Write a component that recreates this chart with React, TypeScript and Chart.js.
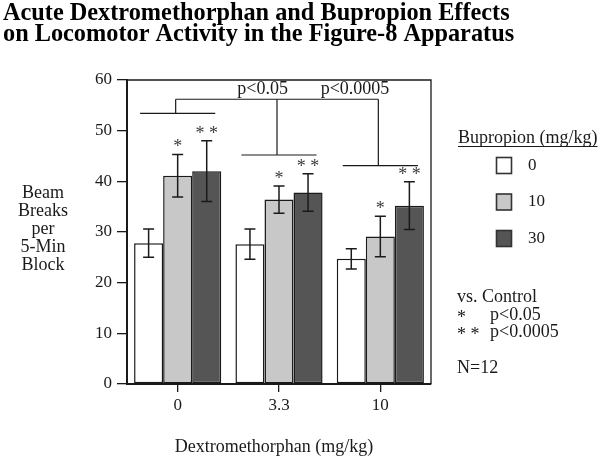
import React, { useEffect, useRef } from 'react';
import { Chart, registerables } from 'chart.js';

Chart.register(...registerables);

// ---- data ----
const categories = ['0', '3.3', '10'];
const seriesLabels = ['0', '10', '30'];
const bup0 = [27.8, 27.6, 24.7];
const bup10 = [41.1, 36.4, 29.1];
const bup30 = [42.0, 37.8, 35.2];
const err0 = [2.8, 3.0, 2.0];
const err10 = [4.2, 2.7, 4.0];
const err30 = [6.0, 3.7, 4.7];
const stars0 = ['', '', ''];
const stars10 = ['*', '*', '*'];
const stars30 = ['* *', '* *', '* *'];
const yTickValues = [0, 10, 20, 30, 40, 50, 60];
const bracketLevels = [53.4, 45.2, 43.1];
const bracketTopLevel = 56.2;
const bracketLabels = ['', 'p<0.05', 'p<0.0005'];

const titleLines = [
  'Acute Dextromethorphan and Bupropion Effects',
  'on Locomotor Activity in the Figure-8 Apparatus',
];
const yTitleLines = ['Beam', 'Breaks', 'per', '5-Min', 'Block'];
const xTitle = 'Dextromethorphan (mg/kg)';
const legendTitle = 'Bupropion (mg/kg)';
const noteLines = ['vs. Control'];
const noteStars = [['*', 'p<0.05'], ['* *', 'p<0.0005']];
const nLabel = 'N=12';

const fills = ['#ffffff', '#c8c8c8', '#555555'];
const SERIF = '"Liberation Serif", "Times New Roman", serif';
const INK = '#1a1a1a';

const errs = [err0, err10, err30];
const stars = [stars0, stars10, stars30];

const annotate = {
  id: 'annotate',
  afterDatasetsDraw(chart: any) {
    const ctx = chart.ctx;
    const y = chart.scales.y;
    ctx.save();
    chart.data.datasets.forEach((ds: any, i: number) => {
      const meta = chart.getDatasetMeta(i);
      meta.data.forEach((bar: any, j: number) => {
        const v = ds.data[j];
        const e = errs[i][j];
        const yt = y.getPixelForValue(v + e);
        const yb = y.getPixelForValue(v - e);
        ctx.strokeStyle = INK;
        ctx.lineWidth = 1.5;
        ctx.beginPath();
        ctx.moveTo(bar.x, yt);
        ctx.lineTo(bar.x, yb);
        ctx.moveTo(bar.x - 5.5, yt);
        ctx.lineTo(bar.x + 5.5, yt);
        ctx.moveTo(bar.x - 5.5, yb);
        ctx.lineTo(bar.x + 5.5, yb);
        ctx.stroke();
        const s = stars[i][j];
        if (s) {
          ctx.fillStyle = '#3a3a3a';
          ctx.font = `18px ${SERIF}`;
          ctx.textAlign = 'center';
          ctx.textBaseline = 'alphabetic';
          ctx.fillText(s, bar.x, yt - 2);
        }
      });
    });
    ctx.restore();
  },
  afterDraw(chart: any) {
    const ctx = chart.ctx;
    const y = chart.scales.y;
    const area = chart.chartArea;
    ctx.save();
    // frame top & right
    ctx.strokeStyle = INK;
    ctx.lineWidth = 1.3;
    ctx.beginPath();
    ctx.moveTo(area.left, area.top);
    ctx.lineTo(area.right, area.top);
    ctx.lineTo(area.right, area.bottom);
    ctx.stroke();

    // brackets
    const m0 = chart.getDatasetMeta(0);
    const m2 = chart.getDatasetMeta(2);
    const yTop = y.getPixelForValue(bracketTopLevel);
    const verts: number[] = [];
    ctx.lineWidth = 1.2;
    bracketLevels.forEach((lvl, k) => {
      const b0 = m0.data[k];
      const b2 = m2.data[k];
      const l = b0.x - b0.width / 2 + 6;
      const r = b2.x + b2.width / 2 - 6;
      const cx = (l + r) / 2 - 2;
      const yl = y.getPixelForValue(lvl);
      ctx.beginPath();
      ctx.moveTo(l, yl);
      ctx.lineTo(r, yl);
      ctx.moveTo(cx, yl);
      ctx.lineTo(cx, yTop);
      ctx.stroke();
      verts.push(cx);
      if (bracketLabels[k]) {
        ctx.fillStyle = INK;
        ctx.font = `18px ${SERIF}`;
        ctx.textAlign = 'right';
        ctx.textBaseline = 'alphabetic';
        ctx.fillText(bracketLabels[k], cx + 11, yTop - 5);
      }
    });
    ctx.beginPath();
    ctx.moveTo(verts[0], yTop);
    ctx.lineTo(verts[verts.length - 1], yTop);
    ctx.stroke();

    // title
    ctx.fillStyle = '#000';
    ctx.font = `bold 24.3px ${SERIF}`;
    ctx.textAlign = 'left';
    ctx.textBaseline = 'alphabetic';
    ctx.fillText(titleLines[0], 3, 19.5);
    ctx.fillText(titleLines[1], 3, 41);

    // y title
    ctx.font = `18px ${SERIF}`;
    ctx.fillStyle = INK;
    ctx.textAlign = 'center';
    ctx.textBaseline = 'middle';
    yTitleLines.forEach((t, i) => ctx.fillText(t, 43, 193 + i * 18));

    // x title
    ctx.font = `18px ${SERIF}`;
    ctx.textBaseline = 'alphabetic';
    ctx.fillText(xTitle, (area.left + area.right) / 2 - 5, 452);

    // legend
    ctx.font = `18px ${SERIF}`;
    ctx.textAlign = 'left';
    ctx.fillText(legendTitle, 458, 143);
    const lw = ctx.measureText(legendTitle).width;
    ctx.lineWidth = 1;
    ctx.beginPath();
    ctx.moveTo(458, 146.5);
    ctx.lineTo(458 + lw, 146.5);
    ctx.stroke();
    ctx.font = `17px ${SERIF}`;
    seriesLabels.forEach((lab, i) => {
      const by = 157.5 + i * 36.5;
      ctx.fillStyle = fills[i];
      ctx.fillRect(496.5, by, 15, 16);
      ctx.strokeStyle = '#333';
      ctx.lineWidth = 1.6;
      ctx.strokeRect(496.5, by, 15, 16);
      ctx.fillStyle = INK;
      ctx.textBaseline = 'middle';
      ctx.fillText(lab, 528, by + 8);
    });

    // notes
    ctx.font = `18px ${SERIF}`;
    ctx.textBaseline = 'alphabetic';
    ctx.fillStyle = INK;
    ctx.fillText(noteLines[0], 457, 302);
    noteStars.forEach(([s, p], i) => {
      const base = 320 + i * 17;
      ctx.fillText(s, 457, base + 3);
      ctx.fillText(p, 490, base);
    });
    ctx.fillText(nLabel, 457, 373);
    ctx.restore();
  },
};

export default function App() {
  const ref = useRef<HTMLCanvasElement | null>(null);
  useEffect(() => {
    document.body.style.margin = '0';
    if (!ref.current) return;
    const chart = new Chart(ref.current, {
      type: 'bar',
      data: {
        labels: categories,
        datasets: [bup0, bup10, bup30].map((d, i) => ({
          label: seriesLabels[i],
          data: d,
          backgroundColor: fills[i],
          borderColor: INK,
          borderWidth: 1.5,
          borderSkipped: false,
          categoryPercentage: 0.86,
          barPercentage: 1.0,
        })),
      },
      options: {
        animation: false,
        responsive: false,
        devicePixelRatio: 1,
        layout: { padding: { top: 80, left: 0, right: 169, bottom: 0 } },
        plugins: {
          legend: { display: false },
          title: { display: false },
          tooltip: { enabled: false },
        },
        scales: {
          x: {
            offset: true,
            grid: {
              offset: false,
              drawOnChartArea: false,
              drawTicks: true,
              tickLength: 8,
              color: INK,
              lineWidth: 1.3,
            },
            border: { display: true, color: INK, width: 2 },
            ticks: { color: INK, font: { family: SERIF, size: 17 }, padding: 3 },
            afterFit: (s: any) => { s.height = 74; },
          },
          y: {
            min: 0,
            max: 60,
            afterBuildTicks: (s: any) => { s.ticks = yTickValues.map((v) => ({ value: v })); },
            grid: {
              drawOnChartArea: false,
              drawTicks: true,
              tickLength: 10,
              color: INK,
              lineWidth: 1.3,
            },
            border: { display: true, color: INK, width: 2 },
            ticks: { color: INK, font: { family: SERIF, size: 17 }, padding: 5 },
            afterFit: (s: any) => { s.width = 127; },
          },
        },
      },
      plugins: [annotate],
    });
    return () => chart.destroy();
  }, []);
  return (
    <div style={{ width: 600, height: 458 }}>
      <canvas ref={ref} width={600} height={458} style={{ display: 'block' }} />
    </div>
  );
}
